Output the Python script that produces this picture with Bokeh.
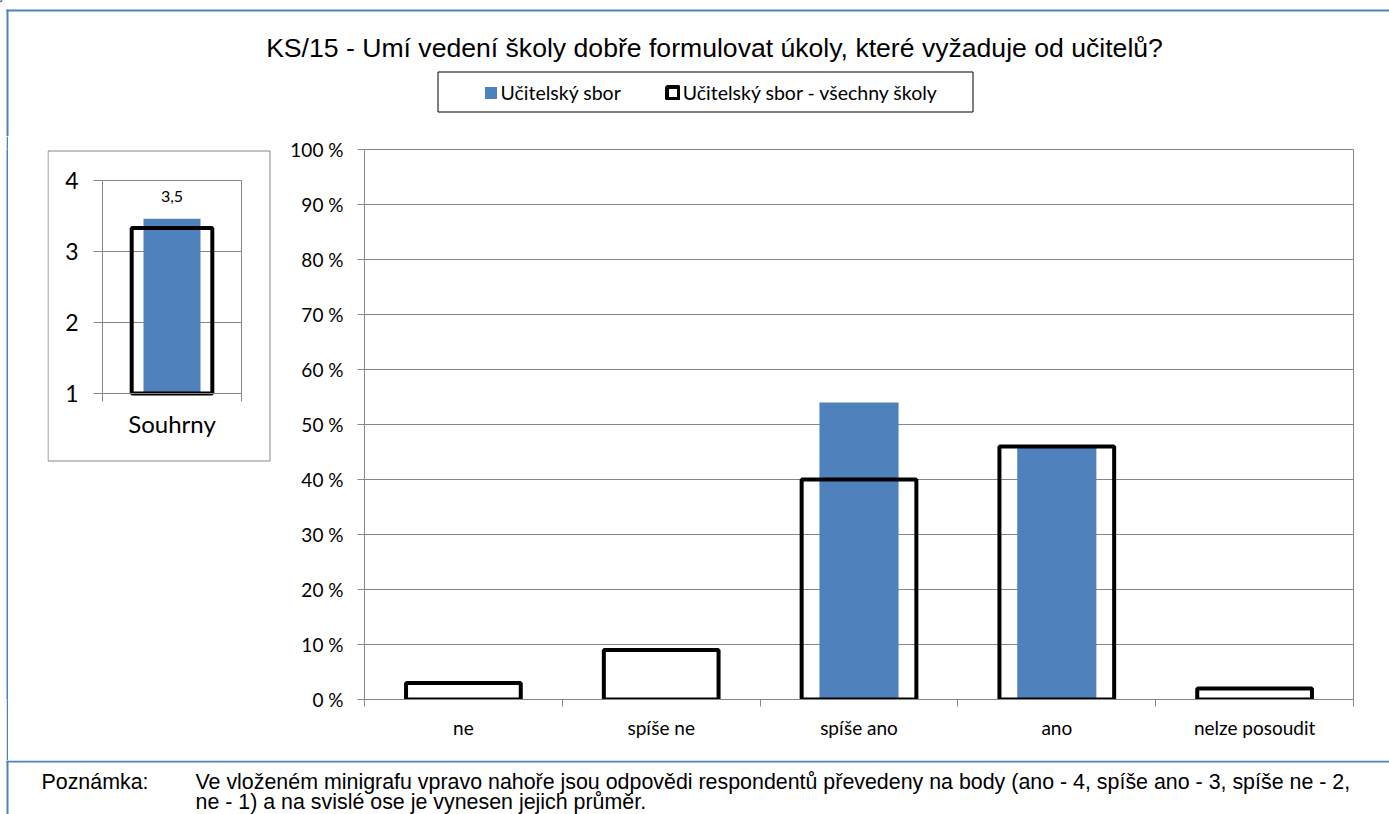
from bokeh.plotting import figure
from bokeh.layouts import column, row
from bokeh.models import Range1d, FixedTicker, Label, Legend, LegendItem, Spacer
from bokeh.embed import file_html
from bokeh.resources import INLINE
from bokeh.core.properties import value

# ---------------- data ----------------
title_text = "KS/15 - Umí vedení školy dobře formulovat úkoly, které vyžaduje od učitelů?"
series_names = ["Učitelský sbor", "Učitelský sbor - všechny školy"]
categories = ["ne", "spíše ne", "spíše ano", "ano", "nelze posoudit"]
school_pct = [0, 0, 54, 46, 0]
all_schools_pct = [3, 9, 40, 46, 2]
y_ticks = [0, 10, 20, 30, 40, 50, 60, 70, 80, 90, 100]
y_tick_labels = [f"{t} %" for t in y_ticks]

summary_category = ["Souhrny"]
summary_school = [3.46]
summary_all = [3.33]
summary_ticks = [1, 2, 3, 4]

note_label = "Poznámka:"
note_lines = [
    "Ve vloženém minigrafu vpravo nahoře jsou odpovědi respondentů převedeny na body (ano - 4, spíše ano - 3, spíše ne - 2,",
    "ne - 1) a na svislé ose je vynesen jejich průměr.",
]

# ---------------- styles ----------------
BLUE = "#4f81bd"
FRAME_BLUE = "#4f81bd"
GREY = "#868686"
CAL = "Lato"
ARIAL = "Liberation Sans"

# page layout (page pixel coordinates)
PX0, PX1 = 0, 1389
HEAD_Y1 = 136
ROW_Y0, ROW_Y1 = HEAD_Y1, 760
NOTE_Y0, NOTE_Y1 = 760, 814
STRIP_X0, STRIP_X1 = 6, 8
MINI_X0, MINI_X1 = 8, 282
MINI_FRAME_L = 47

# main frame in page px
M_L, M_R, M_T, M_B = 364, 1353, 149, 699
# mini plot area in page px (value 1 at N_B, value 4 at N_T)
N_L, N_R, N_T, N_B = 102, 241, 180, 393
N_K = (N_B - N_T) / 3.0  # px per point
N_W = (N_R - N_L)        # px per category


def base_fig(**kw):
    p = figure(toolbar_location=None, output_backend="svg", **kw)
    p.background_fill_color = "white"
    p.border_fill_color = "white"
    return p


def plain_fig(w, h, y0, y1):
    p = base_fig(width=w, height=h, x_range=Range1d(PX0, PX1), y_range=Range1d(y1, y0),
                 x_axis_type=None, y_axis_type=None, min_border=0)
    p.outline_line_color = None
    p.grid.visible = False
    return p


# ---------------- header: title + legend ----------------
hp = plain_fig(PX1 - PX0, HEAD_Y1, 0, HEAD_Y1)
hp.quad(left=[STRIP_X0], right=[PX1], top=[9], bottom=[11], fill_color=FRAME_BLUE, line_color=None)
hp.quad(left=[STRIP_X0], right=[STRIP_X1], top=[9], bottom=[HEAD_Y1], fill_color=FRAME_BLUE, line_color=None)
hp.text(x=[714], y=[47], text=[title_text], text_align="center", text_baseline="middle",
        text_font=value(ARIAL), text_font_size="26.6px", text_color="black")
# legend frame
hp.quad(left=[437.5], right=[972.5], top=[71.5], bottom=[111.5], fill_alpha=0,
        line_color="black", line_width=1)
# legend proxies carrying the two series' styles (placed far off-canvas, zero size)
lg_blue = hp.vbar(x=[-10000], top=[-10000], bottom=[-10000], width=0, fill_color=BLUE, line_color=None)
lg_black = hp.vbar(x=[-10000], top=[-10000], bottom=[-10000], width=0, fill_alpha=0,
                   line_color="black", line_width=4)
legend = Legend(items=[LegendItem(label=series_names[0], renderers=[lg_blue]),
                       LegendItem(label=series_names[1], renderers=[lg_black])],
                orientation="horizontal", location=(482.5, HEAD_Y1 - 104), padding=0, margin=0,
                spacing=44, glyph_width=15, glyph_height=15, label_standoff=3,
                label_text_font=CAL, label_text_font_size="19.5px", label_text_color="black",
                border_line_color=None, background_fill_alpha=0)
hp.add_layout(legend)

row_h = ROW_Y1 - ROW_Y0

# ---------------- blue left border strip ----------------
strip = figure(width=STRIP_X1 - STRIP_X0, height=row_h, toolbar_location=None, output_backend="svg",
               x_axis_type=None, y_axis_type=None, min_border=0)
strip.background_fill_color = FRAME_BLUE
strip.border_fill_color = FRAME_BLUE
strip.outline_line_color = None
strip.grid.visible = False

# ---------------- mini chart ----------------
mini = base_fig(width=MINI_X1 - MINI_X0, height=row_h,
                x_range=Range1d((MINI_FRAME_L - N_L) / N_W, (MINI_X1 - N_L) / N_W),
                y_range=Range1d(1 - (M_B - N_B) / N_K, 4 + (N_T - M_T) / N_K),
                min_border_left=MINI_FRAME_L - MINI_X0, min_border_right=0,
                min_border_top=M_T - ROW_Y0, min_border_bottom=ROW_Y1 - M_B)
mini.outline_line_color = None
mini.xgrid.visible = False
mini.ygrid.visible = False
mini_centers = [i + 0.5 for i in range(len(summary_category))]
mini.xaxis.ticker = FixedTicker(ticks=mini_centers, minor_ticks=list(range(len(summary_category) + 1)))
mini.xaxis.major_label_overrides = {c: s for c, s in zip(mini_centers, summary_category)}
mini.xaxis.fixed_location = summary_ticks[0]
mini.xaxis.bounds = (0, len(summary_category))
mini.yaxis.ticker = FixedTicker(ticks=summary_ticks)
mini.yaxis.fixed_location = 0
mini.yaxis.bounds = (summary_ticks[0], summary_ticks[-1])
for ax in (mini.xaxis[0], mini.yaxis[0]):
    ax.axis_line_color = GREY
    ax.major_label_text_font = CAL
    ax.major_label_text_color = "black"
    ax.minor_tick_line_color = GREY
    ax.major_tick_line_color = GREY
mini.xaxis.major_tick_line_color = None
mini.xaxis.major_tick_out = 0
mini.xaxis.major_tick_in = 0
mini.xaxis.minor_tick_out = 8
mini.xaxis.minor_tick_in = 0
mini.xaxis.major_label_text_font_size = "24px"
mini.xaxis.major_label_standoff = 7
mini.yaxis.major_tick_out = 9
mini.yaxis.major_tick_in = 0
mini.yaxis.minor_tick_line_color = None
mini.yaxis.major_label_text_font_size = "23px"
mini.yaxis.major_label_standoff = 15


def nx(X):
    return (X - N_L) / N_W


def ny(Y):
    return 1 + (N_B - Y) / N_K


# grid lines and right edge of the mini plot area
mini.segment(x0=0, x1=len(summary_category), y0=summary_ticks[1:], y1=summary_ticks[1:],
             line_color=GREY, line_width=1)
mini.segment(x0=len(summary_category), x1=len(summary_category), y0=summary_ticks[0],
             y1=summary_ticks[-1], line_color=GREY, line_width=1)
# grey chart box
mini.quad(left=[nx(47.5)], right=[nx(269.5)], top=[ny(150.5)], bottom=[ny(460.5)],
          fill_alpha=0, line_color=GREY, line_width=1)

mini.vbar(x=mini_centers, top=summary_school, bottom=summary_ticks[0], width=0.41,
          fill_color=BLUE, line_color=None)
mini.vbar(x=mini_centers, top=summary_all, bottom=summary_ticks[0], width=0.58, fill_alpha=0,
          line_color="black", line_width=4)
lab_txt = f"{summary_school[0]:.1f}".replace(".", ",")
mini.add_layout(Label(x=mini_centers[0], y=ny(196), text=lab_txt, text_align="center",
                      text_baseline="middle", text_font=CAL, text_font_size="16px",
                      text_color="black", background_fill_color="white", padding=9))

# ---------------- main chart ----------------
main = base_fig(width=PX1 - MINI_X1, height=row_h,
                x_range=Range1d(0, len(categories)), y_range=Range1d(0, 100),
                min_border_left=M_L - MINI_X1, min_border_right=PX1 - M_R,
                min_border_top=M_T - ROW_Y0, min_border_bottom=ROW_Y1 - M_B)
main.outline_line_color = GREY
main.xgrid.grid_line_color = None
main.ygrid.grid_line_color = GREY
centers = [i + 0.5 for i in range(len(categories))]
main.xaxis.ticker = FixedTicker(ticks=centers, minor_ticks=list(range(len(categories) + 1)))
main.xaxis.major_label_overrides = {c: s for c, s in zip(centers, categories)}
main.yaxis.ticker = FixedTicker(ticks=y_ticks)
main.ygrid.ticker = FixedTicker(ticks=y_ticks)
main.yaxis.major_label_overrides = {t: s for t, s in zip(y_ticks, y_tick_labels)}
for ax in (main.xaxis[0], main.yaxis[0]):
    ax.axis_line_color = GREY
    ax.major_label_text_font = CAL
    ax.major_label_text_color = "black"
    ax.major_label_text_font_size = "19px"
    ax.minor_tick_line_color = GREY
    ax.major_tick_line_color = GREY
main.xaxis.major_tick_line_color = None
main.xaxis.major_tick_out = 0
main.xaxis.major_tick_in = 0
main.xaxis.minor_tick_out = 7
main.xaxis.minor_tick_in = 0
main.xaxis.major_label_standoff = 9
main.yaxis.major_tick_out = 7
main.yaxis.major_tick_in = 0
main.yaxis.minor_tick_line_color = None
main.yaxis.major_label_standoff = 14

main.vbar(x=centers, top=school_pct, bottom=0, width=0.4, fill_color=BLUE, line_color=None)
main.vbar(x=centers, top=all_schools_pct, bottom=0, width=0.58, fill_alpha=0,
          line_color="black", line_width=4)

# ---------------- note strip ----------------
npf = plain_fig(PX1 - PX0, NOTE_Y1 - NOTE_Y0, NOTE_Y0, NOTE_Y1)
npf.quad(left=[STRIP_X0], right=[PX1], top=[NOTE_Y0], bottom=[NOTE_Y0 + 2], fill_color=FRAME_BLUE, line_color=None)
npf.quad(left=[STRIP_X0], right=[STRIP_X1], top=[NOTE_Y0], bottom=[NOTE_Y1], fill_color=FRAME_BLUE, line_color=None)
npf.text(x=[41], y=[781], text=[note_label], text_align="left", text_baseline="middle",
         text_font=value(ARIAL), text_font_size="21.4px", text_color="black")
npf.text(x=[195, 195], y=[781, 801], text=note_lines, text_align="left", text_baseline="middle",
         text_font=value(ARIAL), text_font_size="21.4px", text_color="black")

layout = column(hp,
                row(Spacer(width=STRIP_X0, height=row_h), strip, mini, main, spacing=0),
                npf, spacing=0)
open("out.html", "w").write(file_html(layout, INLINE))
